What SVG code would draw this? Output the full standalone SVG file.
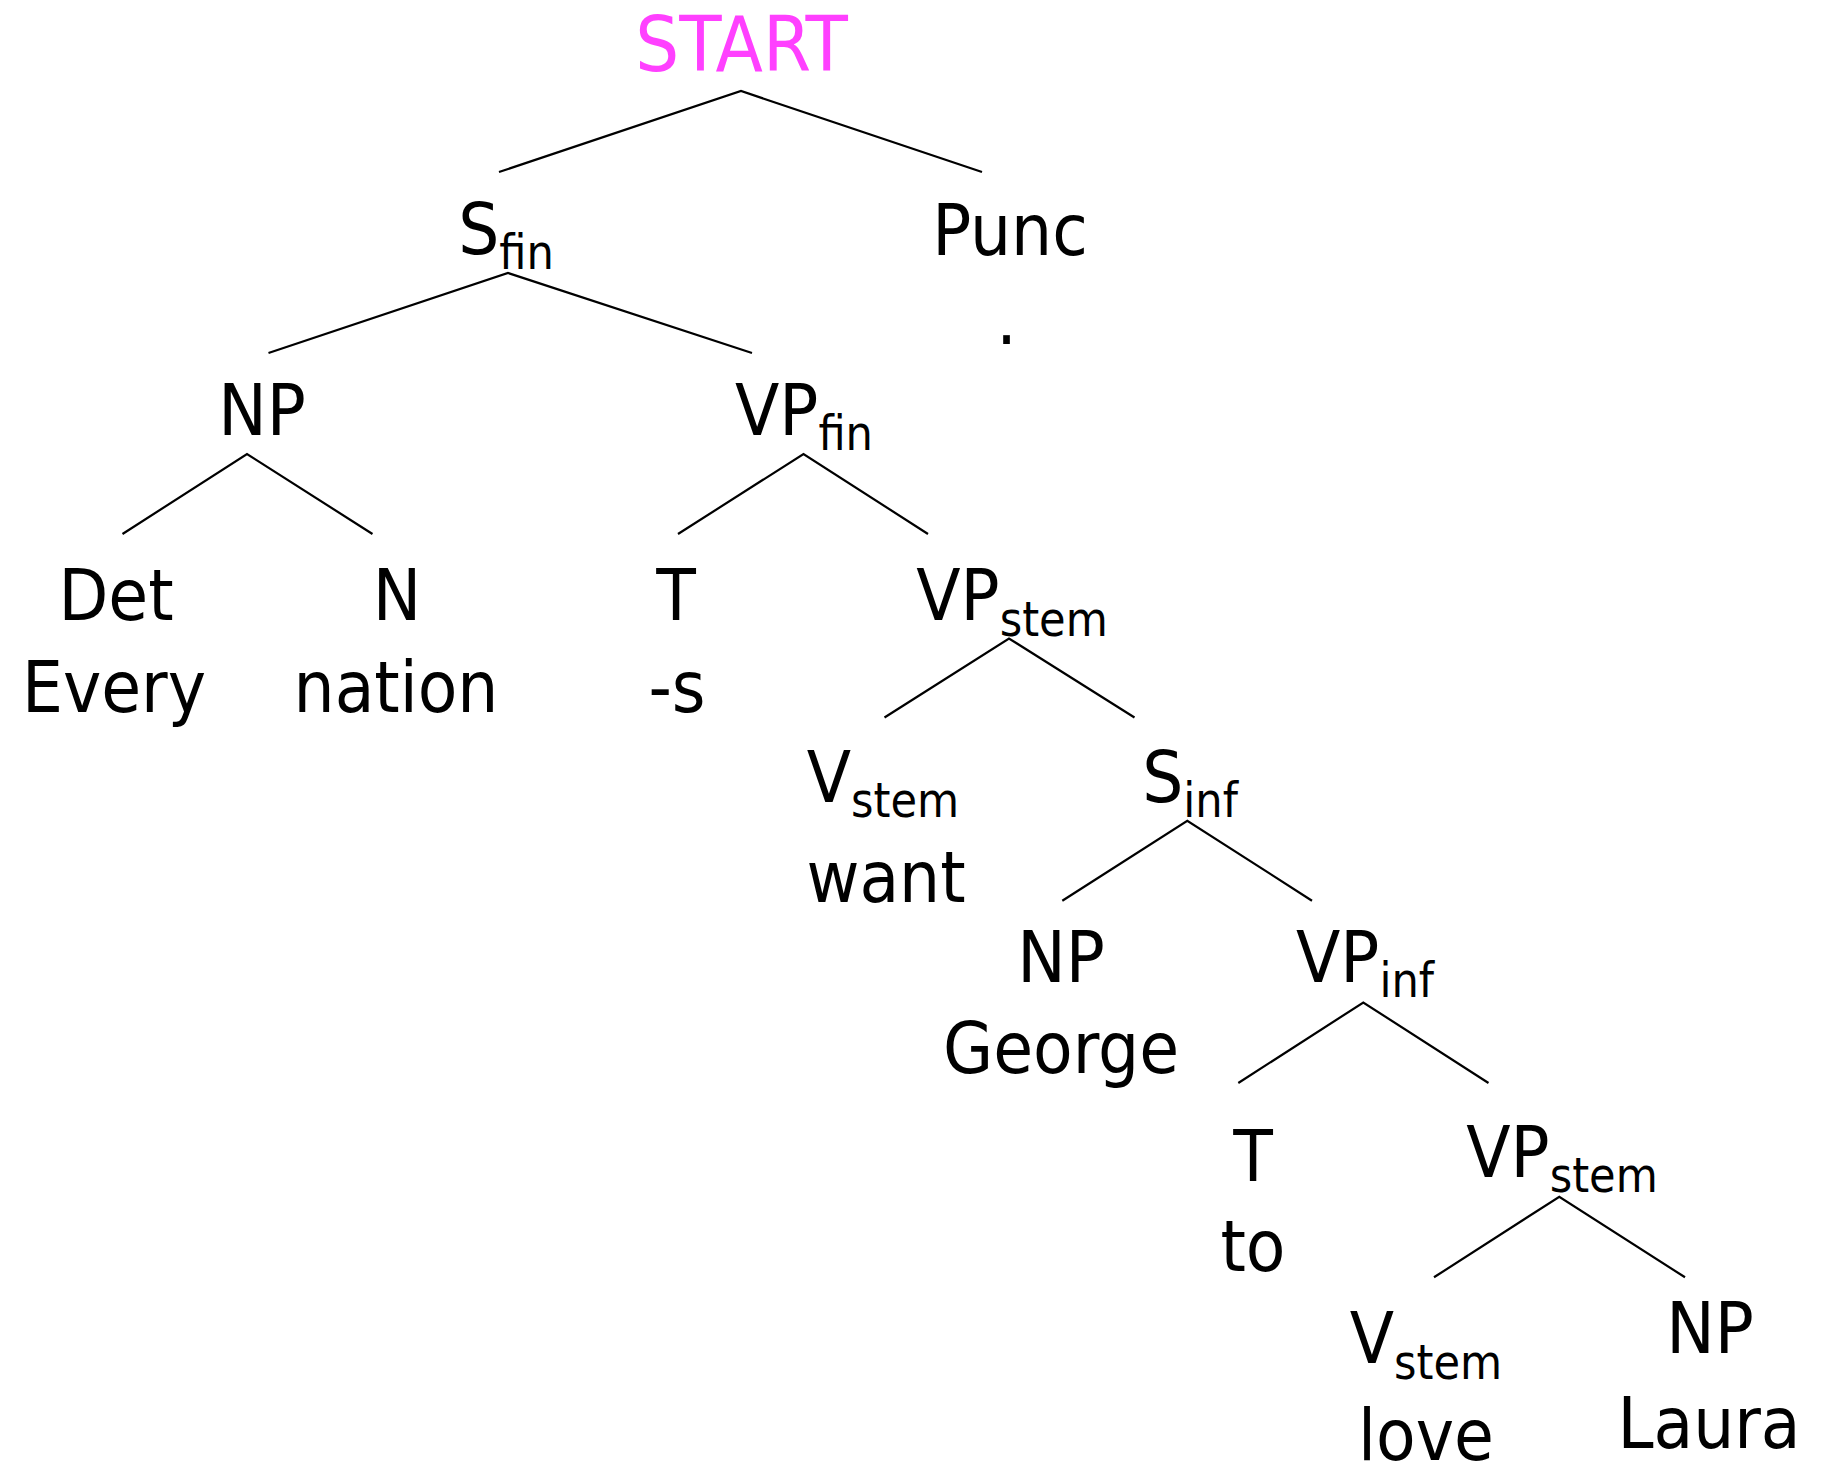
<svg xmlns="http://www.w3.org/2000/svg" width="1831" height="1468" viewBox="0 0 1831 1468">
<style>
text{font-family:"DejaVu Sans Condensed","DejaVu Sans",sans-serif;font-stretch:condensed;font-size:72px;fill:#000;text-anchor:middle}
.sub{font-size:48px}
.start{fill:#ff40ff;font-size:77px}
#connectors polyline{fill:none;stroke:#000;stroke-width:2.2}
</style>
<rect width="1831" height="1468" fill="#fff"/>
<g id="connectors">
<polyline points="499,172 741,91 982,172"/>
<polyline points="268.5,353 508,273 752,353"/>
<polyline points="122.5,534 247,454 372.5,534"/>
<polyline points="678,534 803.5,454 928,534"/>
<polyline points="884.5,717.5 1009,638.5 1134.5,717.5"/>
<polyline points="1062.3,900.7 1187.3,820.7 1312,900.7"/>
<polyline points="1238.3,1083 1363.3,1002.5 1488.5,1083"/>
<polyline points="1434,1277.3 1559.3,1196.7 1685,1277.3"/>
</g>
<g id="n-start"><text class="start" x="741.5" y="71">START</text></g>
<g id="n-sfin"><text x="506" y="254">S<tspan class="sub" dy="15">fin</tspan></text></g>
<g id="n-punc"><text x="1010" y="255">Punc</text><text x="1006.5" y="344">.</text></g>
<g id="n-np1"><text x="262" y="435">NP</text></g>
<g id="n-vpfin"><text x="804" y="435">VP<tspan class="sub" dy="15">fin</tspan></text></g>
<g id="n-det"><text x="116" y="620">Det</text><text x="114" y="712">Every</text></g>
<g id="n-n"><text x="397" y="620">N</text><text x="396" y="712">nation</text></g>
<g id="n-t1"><text x="676" y="620">T</text><text x="677" y="712">-s</text></g>
<g id="n-vpstem1"><text x="1012" y="620">VP<tspan class="sub" dy="16">stem</tspan></text></g>
<g id="n-vstem1"><text x="883" y="802">V<tspan class="sub" dy="15">stem</tspan></text><text x="886" y="902">want</text></g>
<g id="n-sinf"><text x="1190" y="802">S<tspan class="sub" dy="15">inf</tspan></text></g>
<g id="n-np2"><text x="1061" y="982">NP</text><text x="1061" y="1073">George</text></g>
<g id="n-vpinf"><text x="1365" y="982">VP<tspan class="sub" dy="15">inf</tspan></text></g>
<g id="n-t2"><text x="1253" y="1181">T</text><text x="1253" y="1271">to</text></g>
<g id="n-vpstem2"><text x="1562" y="1177">VP<tspan class="sub" dy="15">stem</tspan></text></g>
<g id="n-vstem2"><text x="1426" y="1363">V<tspan class="sub" dy="16">stem</tspan></text><text x="1426" y="1460">love</text></g>
<g id="n-np3"><text x="1710" y="1353">NP</text><text x="1709" y="1448">Laura</text></g>
</svg>
